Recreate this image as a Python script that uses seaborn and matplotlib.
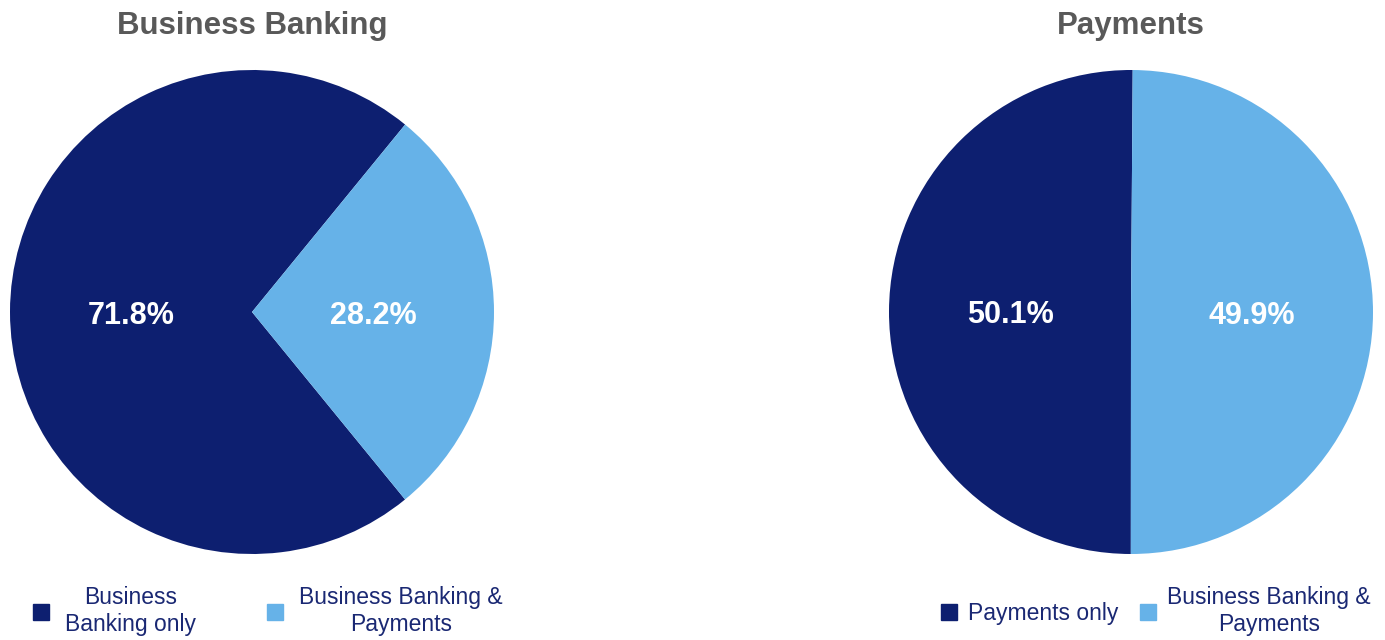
import matplotlib
matplotlib.use("Agg")
import matplotlib.pyplot as plt
from matplotlib.lines import Line2D
import seaborn as sns

# Segment shares (%) for each product line
bb_labels = ["Business\nBanking only", "Business Banking &\nPayments"]
bb_values = [71.8, 28.2]
pay_labels = ["Payments only", "Business Banking &\nPayments"]
pay_values = [50.1, 49.9]
titles = ["Business Banking", "Payments"]

sns.set_theme(style="white")
plt.rcParams["font.family"] = ["Liberation Sans", "DejaVu Sans"]

DARK = "#0D1F70"
LIGHT = "#66B2E8"
TEXT = "#1A2873"
TITLE = "#595959"

W, H = 1385, 640
fig = plt.figure(figsize=(W / 100, H / 100), dpi=100)
fig.patch.set_facecolor("white")

R = 242
centers = [(252, 312), (1131, 312)]
starts = [50.75, 89.6]


def pie_axes(cx, cy):
    return fig.add_axes([(cx - R) / W, (H - cy - R) / H, 2 * R / W, 2 * R / H])


datasets = [(bb_labels, bb_values), (pay_labels, pay_values)]
for (cx, cy), start, title, (labels, values) in zip(centers, starts, titles, datasets):
    ax = pie_axes(cx, cy)
    wedges, _, autotexts = ax.pie(
        values,
        colors=[DARK, LIGHT],
        startangle=start,
        counterclock=True,
        autopct="%.1f%%",
        pctdistance=0.5,
        radius=1,
        wedgeprops=dict(linewidth=0),
        textprops=dict(color="white", fontsize=22, fontweight="bold"),
    )
    for t in autotexts:
        x, y = t.get_position()
        t.set_position((x, y - 0.016))
    ax.set_xlim(-1, 1)
    ax.set_ylim(-1, 1)
    ax.set_aspect("equal")
    ax.axis("off")
    fig.text(cx / W, 1 - 34 / H, title, ha="center", va="baseline",
             fontsize=22.5, fontweight="bold", color=TITLE)

# Legends beneath each pie
legend_specs = [
    (bb_labels, (268 / W, 1 - 611 / H), 3.1, 0.75),
    (pay_labels, (1156 / W, 1 - 611 / H), 1.0, 0.5),
]
for labels, anchor, colspace, textpad in legend_specs:
    handles = [
        Line2D([0], [0], marker="s", linestyle="none", markersize=11,
               markerfacecolor=c, markeredgecolor=c)
        for c in (DARK, LIGHT)
    ]
    leg = fig.legend(handles, labels, loc="center", bbox_to_anchor=anchor,
                     ncol=2, frameon=False, fontsize=16.5,
                     handlelength=0.65, handletextpad=textpad,
                     columnspacing=colspace, borderpad=0)
    for t in leg.get_texts():
        t.set_color(TEXT)
        t.set_multialignment("center")
        t.set_linespacing(1.22)

fig.savefig("out.png", dpi=100, facecolor="white")
